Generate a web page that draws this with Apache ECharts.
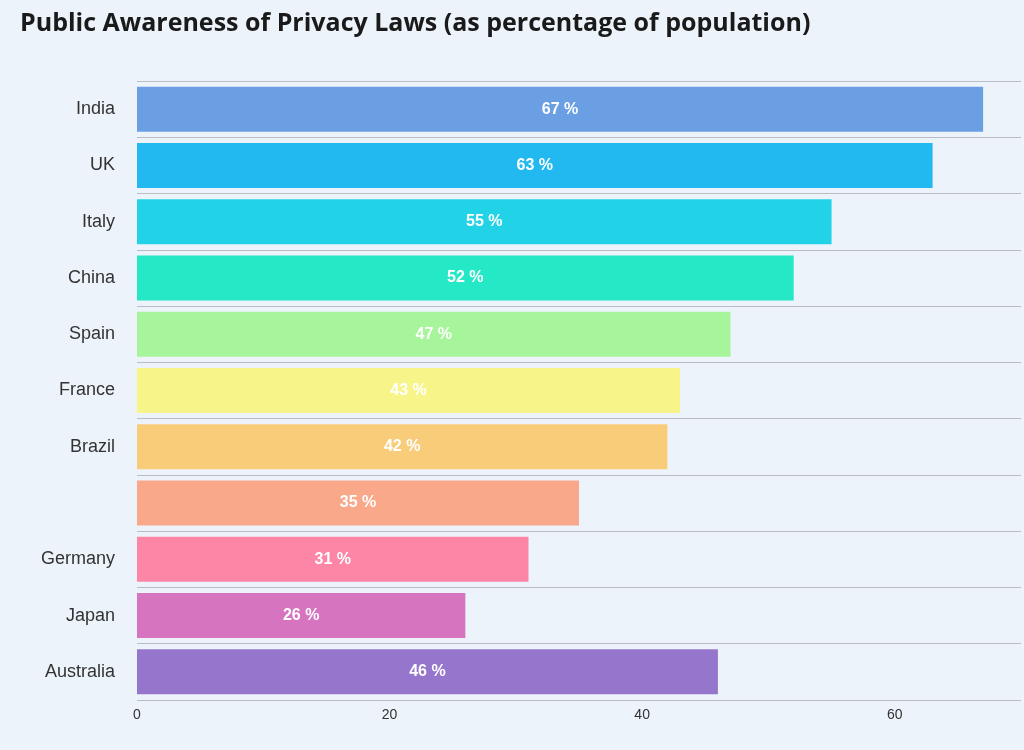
<!DOCTYPE html>
<html>
<head>
<meta charset="utf-8">
<script src="https://cdn.jsdelivr.net/npm/echarts@6/dist/echarts.min.js"></script>
<style>
  html, body { margin: 0; padding: 0; background: #edf3fb; }
  #main { width: 1024px; height: 750px; }
</style>
</head>
<body>
<div id="main"></div>
<script>
var countries = ['India', 'UK', 'Italy', 'China', 'Spain', 'France', 'Brazil', 'Germany', 'Japan', 'Australia'];
var awareness = [67, 63, 55, 52, 47, 43, 42, 35, 31, 26, 46];
// the picture shows 11 bars but 10 labels; the extra bar sits between Brazil and Germany
var barNames = ['India', 'UK', 'Italy', 'China', 'Spain', 'France', 'Brazil', '', 'Germany', 'Japan', 'Australia'];
var barColors = ['#6a9fe3', '#22b8f0', '#22d3e8', '#25e8c6', '#a6f59a', '#f7f58a', '#f9cc7a', '#f9a88a', '#fd85a5', '#d674c0', '#9676cc'];

var myChart = echarts.init(document.getElementById('main'));
var option = {
    backgroundColor: '#edf3fb',
    title: {
        text: 'Public Awareness of Privacy Laws (as percentage of population)',
        left: 15,
        top: 6,
        textStyle: { fontFamily: 'Open Sans', fontWeight: 'bold', fontSize: 25, color: '#1a1a1a' }
    },
    grid: { left: 137, right: 0, top: 81, bottom: 50 },
    xAxis: {
        type: 'value',
        min: 0,
        max: 70,
        interval: 20,
        axisLabel: { color: '#333', fontSize: 14, fontFamily: 'Liberation Sans',
            formatter: function (v) { return v > 60 ? '' : v; } },
        splitLine: { show: false },
        axisLine: { show: false },
        axisTick: { show: false }
    },
    yAxis: {
        type: 'category',
        inverse: true,
        data: barNames,
        axisLabel: { color: '#333', fontSize: 18, fontFamily: 'Liberation Sans', margin: 22 },
        axisLine: { show: false },
        axisTick: { show: false },
        splitLine: { show: true, lineStyle: { color: '#b9bec6', width: 1 } }
    },
    series: [{
        type: 'bar',
        barCategoryGap: '20%',
        data: awareness.map(function (v, i) {
            return { value: v, itemStyle: { color: barColors[i] } };
        }),
        label: {
            show: true,
            position: 'inside',
            formatter: '{c} %',
            color: '#fff',
            fontWeight: 'bold',
            fontSize: 16,
            fontFamily: 'Liberation Sans'
        }
    }]
};
myChart.setOption(option);
</script>
</body>
</html>
